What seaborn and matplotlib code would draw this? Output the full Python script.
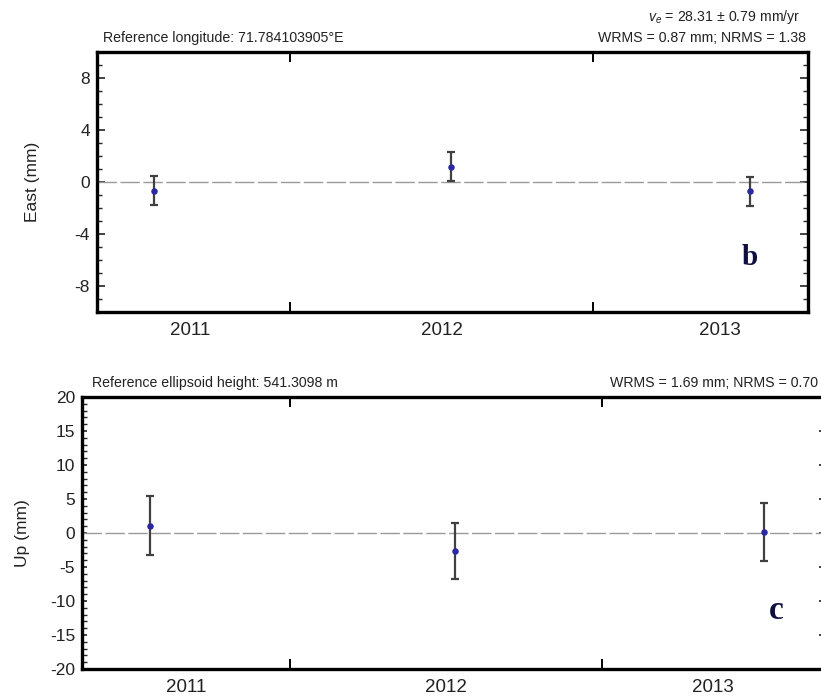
import matplotlib
matplotlib.use("Agg")
import matplotlib.pyplot as plt
import numpy as np
import pandas as pd
import seaborn as sns
from matplotlib.ticker import MultipleLocator, FixedLocator, NullFormatter

# Campaign epochs (decimal years) and daily-solution residuals
epochs = [2011.55, 2012.53, 2013.52]
east_mm = [-0.67, 1.19, -0.72]
east_sig = [1.1, 1.1, 1.1]
up_mm = [1.1, -2.6, 0.15]
up_sig = [4.3, 4.1, 4.25]
years = [2011, 2012, 2013]

east_df = pd.DataFrame({"t": epochs, "v": east_mm, "s": east_sig})
up_df = pd.DataFrame({"t": epochs, "v": up_mm, "s": up_sig})

sns.set_theme(style="ticks")
plt.rcParams["font.family"] = ["Liberation Sans", "DejaVu Sans"]
plt.rcParams["axes.unicode_minus"] = False
plt.rcParams["mathtext.fontset"] = "custom"
plt.rcParams["mathtext.it"] = "Liberation Sans:italic"
plt.rcParams["mathtext.rm"] = "Liberation Sans"

W, H = 821, 697
fig = plt.figure(figsize=(W / 100, H / 100), dpi=100)
fig.patch.set_facecolor("white")


def px_rect(x0, y0, x1, y1):
    return [x0 / W, 1 - y1 / H, (x1 - x0) / W, (y1 - y0) / H]


def style_panel(ax, df, xlim, ylim, major, minor, ylabel, label_x,
                right_minor=True, label_pos=None):
    ax.axhline(0, color="#9a9a9a", lw=1.0, ls=(0, (14, 2.5)), zorder=1)
    ax.errorbar(df["t"], df["v"], yerr=df["s"], fmt="none", ecolor="#404040",
                elinewidth=1.6, capsize=3.2, capthick=1.6, zorder=2)
    sns.scatterplot(data=df, x="t", y="v", ax=ax, color="#2a2aa0", s=22,
                    edgecolor="#2a2aa0", linewidth=0, zorder=3, legend=False)
    ax.set_xlim(*xlim)
    ax.set_ylim(*ylim)
    # year boundaries as ticks, year annotations inside each interval
    ax.xaxis.set_major_locator(FixedLocator([y for y in years if xlim[0] < y < xlim[1]]))
    ax.xaxis.set_major_formatter(NullFormatter())
    if label_pos is None:
        label_pos = [(max(y, xlim[0]) + min(y + 1, xlim[1])) / 2 for y in years]
    ax.xaxis.set_minor_locator(FixedLocator(label_pos))
    ax.set_xticklabels([str(y) for y in years], minor=True)
    ax.tick_params(axis="x", which="minor", length=0, pad=7, labelsize=13.5,
                   colors="#222222")
    ax.tick_params(axis="x", which="major", direction="in", length=7, width=1.4,
                   top=True, bottom=True, color="black")
    ax.yaxis.set_major_locator(MultipleLocator(major))
    ax.yaxis.set_minor_locator(MultipleLocator(minor))
    ax.tick_params(axis="y", which="major", direction="in", length=6, width=1.2,
                   left=True, right=True, labelsize=12.5, pad=5, colors="#222222")
    ax.tick_params(axis="y", which="minor", direction="in", length=3.5, width=1.0,
                   left=True, right=right_minor)
    ax.set_xlabel("")
    ax.set_ylabel(ylabel, fontsize=12.5, color="#222222")
    ax.yaxis.set_label_coords(label_x, 0.5)
    for sp in ax.spines.values():
        sp.set_linewidth(2.4)
        sp.set_color("black")
        sp.set_visible(True)
    ax.set_facecolor("white")


# East component
ax1 = fig.add_axes(px_rect(97, 52, 808, 312))
style_panel(ax1, east_df, (2011.363, 2013.710), (-10, 10), 4, 1, "East (mm)", -0.080,
            label_pos=[2011.67, 2012.5, 2013.42])
ax1.text(0.918, 0.21, "b", transform=ax1.transAxes, family="Liberation Serif",
         fontweight="bold", fontsize=21, color="#101040", ha="center", va="center")

# Up component
ax2 = fig.add_axes(px_rect(82, 397, 824, 669))
style_panel(ax2, up_df, (2011.333, 2013.712), (-20, 20), 5, 1, "Up (mm)", -0.070,
            right_minor=False)
ax2.tick_params(axis="y", which="major", right=True, length=3.5)
ax2.tick_params(axis="y", which="major", left=True)
ax2.text(0.935, 0.215, "c", transform=ax2.transAxes, family="Liberation Serif",
         fontweight="bold", fontsize=24, color="#101040", ha="center", va="center")

hdr = dict(fontsize=10.2, color="#222222", va="center")
fig.text(103 / W, 1 - 38 / H, "Reference longitude: 71.784103905°E", ha="left", **hdr)
fig.text(806 / W, 1 - 38 / H, "WRMS = 0.87 mm; NRMS = 1.38", ha="right", **hdr)
fig.text(800 / W, 1 - 17 / H, r"$v_e$ = 28.31 ± 0.79 mm/yr", ha="right", **hdr)
fig.text(92 / W, 1 - 383 / H, "Reference ellipsoid height: 541.3098 m", ha="left", **hdr)
fig.text(818 / W, 1 - 383 / H, "WRMS = 1.69 mm; NRMS = 0.70", ha="right", **hdr)

fig.savefig("out.png", dpi=100, facecolor="white")
